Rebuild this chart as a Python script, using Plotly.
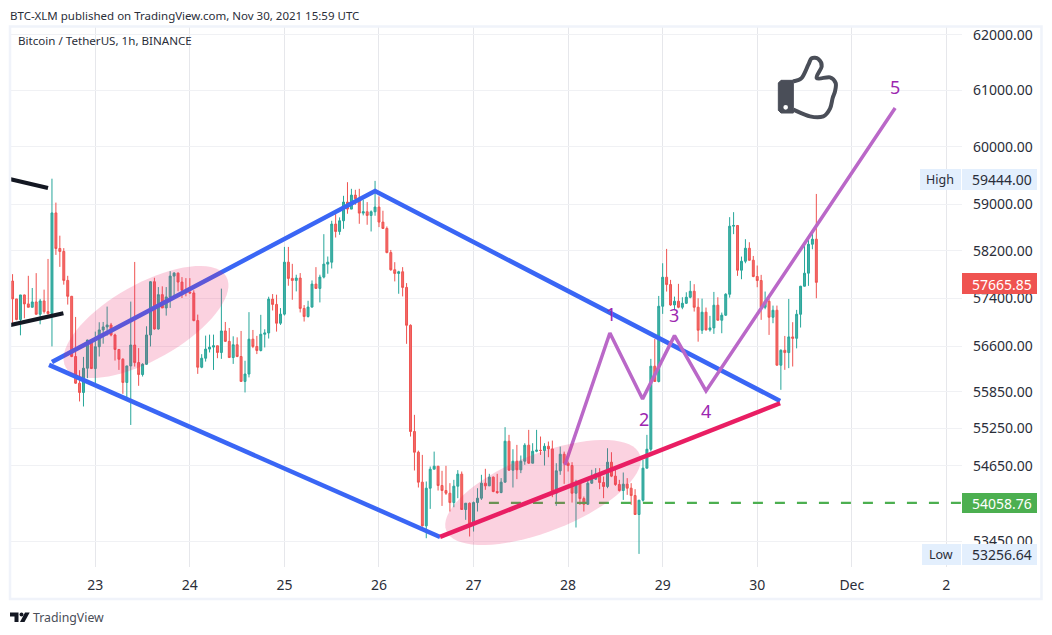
import math
import pandas as pd
import plotly.graph_objects as go

FIRST_OPEN = 57688
closes = [57387,57041,57454,57303,57247,57336,57130,57353,57174,57141,58851,58241,58190,57699,57431,56427,55988,55836,56234,56700,56228,56589,56868,56918,56951,56784,56544,56382,56000,56272,56617,56327,56130,56299,56784,57677,56884,57459,57236,57420,57772,57822,57671,57532,57500,57487,57024,56250,56399,56550,56583,56605,56494,56851,56678,56410,56622,56427,
          56017,56138,56714,56593,56527,56796,56818,57384,57295,56980,57132,58008,57733,57699,57739,57227,57092,57250,57637,57564,57755,57975,58008,58659,58532,58716,59038,58917,59159,59096,58848,58871,58808,58871,58952,58693,58584,58171,57879,57817,57845,57581,56946,55201,
          54867,54388,53696,54292,54595,54643,54335,54255,54212,54064,54324,54516,53954,54054,53728,54064,54133,54372,54329,54468,54239,54223,54388,55044,54579,54723,54585,54723,54980,54691,54883,54899,54894,54963,54920,54212,54569,54835,54691,54654,54212,54372,54127,54038,54372,54436,54521,54383,54319,54707,54484,54351,54255,54356,54292,54175,53875,54101,54611,54915,56267,
          56016,57264,57753,57629,57286,57348,57247,57314,57415,57516,57247,56863,57164,56869,56902,57281,57030,57114,57466,58623,58635,57872,58024,58245,58041,57765,57697,57247,57348,57080,57197,56284,56530,56492,56752,56729,57130,57601,57821,58314,58400,57665.85]
highs = [57805,57387,57454,57459,57777,57571,57822,57387,57543,58063,59444,59029,58460,58247,57777,57437,57085,56201,56421,56706,56706,56840,56996,57001,57258,56985,56806,56550,56399,56272,57342,58012,56566,56316,56929,57682,57744,57587,57599,57587,57855,57840,57833,57755,57738,57738,57532,57124,56466,56773,56790,56790,56605,57560,57001,56901,56762,56745,
         56851,56357,57165,56868,56769,57120,56879,57424,57469,57458,57233,58268,58268,57980,57795,57823,57283,57356,57699,57924,57795,58486,58104,58716,58831,58774,59147,59383,59268,59251,59268,59078,59038,58894,59406,59136,58889,58618,58216,58008,57862,57924,57654,56960,
         55471,54893,54824,54399,54638,54877,54643,54569,54649,54372,54425,54580,54558,54054,54064,54080,54292,54505,54601,54521,54478,54521,54452,55271,55147,54915,54985,54814,55012,55228,55012,55228,55120,55012,55039,55055,54691,54958,54877,54718,54707,54425,54372,54159,54425,54585,54612,54612,54478,54931,54867,54612,54425,54542,54452,54372,54276,54106,54744,55147,56388,
         56718,57437,57990,58234,57708,57426,57641,57415,57499,57691,57635,57398,57392,57242,57103,57505,57415,57158,57483,58778,58864,58629,58103,58400,58348,58114,57951,57793,57511,57426,57275,57275,56546,56768,57387,56997,57203,57607,58303,58389,58532,59179]
lows = [56985,57030,56778,57063,57247,57247,57124,56962,57141,57124,56594,58132,57928,57627,57292,56416,55978,55689,55607,56070,56223,55961,56427,56639,56773,56762,56360,56206,55814,55743,55307,56261,55945,56097,56288,56594,56873,56873,57236,57107,57236,57431,57515,57403,57431,57476,57013,56141,56234,56343,56494,56206,56399,56388,56667,56410,56305,56416,
        56017,55836,56083,56566,56467,56511,56577,56725,57193,56840,56952,57109,57609,57373,57514,57160,57008,57075,57244,57564,57328,57733,57812,57901,58429,58475,58578,58837,58917,58992,58664,58808,58647,58532,58802,58607,58578,58160,57862,57682,57474,57429,56637,55120,
        54574,54303,53686,53502,53964,54595,54255,54011,54186,53922,53990,54133,53949,53791,53529,53607,53922,54106,54266,54329,54228,54202,54212,54383,54574,54303,54436,54532,54665,54681,54691,54867,54824,54654,54787,54149,54011,54505,54361,54558,54064,53670,54027,53922,54027,54361,54425,54276,54133,54292,54468,54329,54239,54106,54186,54027,53870,53257,54080,54611,54880,
        56016,56000,57136,57511,57270,57214,57231,57214,57303,57398,57175,56673,56802,56858,56841,56802,57025,56813,57103,57409,58486,57776,57719,57990,58035,57753,57584,57036,57214,56785,56980,56278,55879,56207,56235,56262,56562,56908,57607,57607,58228,57398]
opens = [FIRST_OPEN] + closes[:-1]
FIRST_HOUR = -21
hours = list(range(FIRST_HOUR, FIRST_HOUR + len(closes)))

BASE = pd.Timestamp("2021-11-23")
def at(h):
    return BASE + pd.Timedelta(hours=h)
times = [at(h) for h in hours]

price_ticks = [62000, 61000, 60000, 59000, 58200, 57400, 56600, 55850, 55250, 54650, 53450]
day_ticks = ["2021-11-23","2021-11-24","2021-11-25","2021-11-26","2021-11-27","2021-11-28","2021-11-29","2021-11-30","2021-12-01","2021-12-02"]
day_labels = ["23","24","25","26","27","28","29","30","Dec","2"]

blue_upper_h = [-11, 71, 173.8]
blue_upper_p = [56337, 59231, 55697]
blue_lower_h = [-11.75, 87.5]
blue_lower_p = [56288, 53522]
pink_h = [87.5, 173.8]
pink_p = [53522, 55660]
wave_h = [119.2, 130.6, 138.9, 147, 155, 203]
wave_p = [54663, 56818, 55730, 56773, 55861, 60689]
black1_h = [-21.5, -12]
black1_p = [59434, 59283]
black2_h = [-21.5, -8.1]
black2_p = [56951, 57147]
support_h = [99.9, 220]
support_p = [54058.76, 54058.76]

# page pixel positions; the figure itself starts 8 px in because of the page's body margin
L, R, T, B = 10, 962, 27, 567
PAGE = 8
W, H = 1036, 619
FONT = "Noto Sans"
TXT = "#2a2e39"

def X(x): return (x - L) / (R - L)
def Y(y): return (B - y) / (B - T)

def line(hs, ps, color, width, dash=None):
    return go.Scatter(x=[at(h) for h in hs], y=ps, mode="lines", hoverinfo="skip", showlegend=False,
                      line=dict(color=color, width=width, dash=dash))

fig = go.Figure()
fig.add_trace(go.Candlestick(x=times, open=opens, high=highs, low=lows, close=closes, showlegend=False,
    whiskerwidth=0,
    increasing=dict(line=dict(color="#26a69a", width=1), fillcolor="#46b0a6"),
    decreasing=dict(line=dict(color="#ef5350", width=1), fillcolor="#f26b69")))
fig.add_trace(line(support_h, support_p, "#4caf50", 2.2, "10px,12px"))
fig.add_trace(line(black1_h, black1_p, "#131722", 4.2))
fig.add_trace(line(black2_h, black2_p, "#131722", 4.2))
fig.add_trace(line(blue_upper_h, blue_upper_p, "#3a66f5", 4.5))
fig.add_trace(line(blue_lower_h, blue_lower_p, "#3a66f5", 4.5))
fig.add_trace(line(pink_h, pink_p, "#e91e63", 4.5))
fig.add_trace(line(wave_h, wave_p, "#ba68c8", 3.5))

def poly(pts, close=False):
    s = "M" + " L".join(f"{X(x):.5f},{Y(y):.5f}" for x, y in pts)
    return s + (" Z" if close else "")

def ellipse_path(cx, cy, a, b, deg, n=72):
    t = math.radians(deg)
    pts = []
    for i in range(n):
        u = 2 * math.pi * i / n
        ex, ey = a * math.cos(u), b * math.sin(u)
        pts.append((cx + ex * math.cos(t) - ey * math.sin(t), cy - (ex * math.sin(t) + ey * math.cos(t))))
    return poly(pts, True)

def smooth(pts):
    s = f"M{X(pts[0][0]):.5f},{Y(pts[0][1]):.5f}"
    for i in range(len(pts) - 1):
        p0 = pts[max(i - 1, 0)]; p1 = pts[i]; p2 = pts[i + 1]; p3 = pts[min(i + 2, len(pts) - 1)]
        c1 = (p1[0] + (p2[0] - p0[0]) / 6, p1[1] + (p2[1] - p0[1]) / 6)
        c2 = (p2[0] - (p3[0] - p1[0]) / 6, p2[1] - (p3[1] - p1[1]) / 6)
        s += f" C{X(c1[0]):.5f},{Y(c1[1]):.5f} {X(c2[0]):.5f},{Y(c2[1]):.5f} {X(p2[0]):.5f},{Y(p2[1]):.5f}"
    return s

shapes = []
def rect(x0, y0, x1, y1, fill, line_color=None, lw=0):
    shapes.append(dict(type="rect", xref="paper", yref="paper", x0=X(x0), x1=X(x1), y0=Y(y0), y1=Y(y1),
                       fillcolor=fill, line=dict(width=lw, color=line_color or fill), layer="above"))
def path(d, fill=None, lc=None, lw=0):
    sh = dict(type="path", xref="paper", yref="paper", path=d, layer="above", line=dict(width=lw, color=lc or "rgba(0,0,0,0)"))
    if fill: sh["fillcolor"] = fill
    shapes.append(sh)

# frame
rect(10, 26.5, 1041.5, 599, "rgba(0,0,0,0)", "#f0f3fa", 2.5)
# ellipses
path(ellipse_path(146, 322, 92.2, 37.9, 29.4), fill="rgba(233,30,99,0.2)")
path(ellipse_path(543, 492.5, 104, 38.8, 21.5), fill="rgba(233,30,99,0.2)")
# labels
rect(920, 169, 961, 190, "#e3effd")
rect(962, 169, 1037, 190, "#e3effd")
rect(922, 544, 961, 565, "#e3effd")
rect(962, 544, 1037, 565, "#e3effd")
rect(962, 273, 1037, 294, "#ef5350")
rect(962, 493, 1037, 513, "#4caf50")
# thumb icon
zx = lambda z: 770 + z / 3
zy = lambda z: 48 + z / 3
thumb = [(70,100),(95,90),(115,50),(125,31),(145,33),(155,55),(140,90),(180,88),(197,105),(195,130),(188,150),(180,182),(160,205),(120,205),(70,185)]
path(smooth([(zx(a), zy(b)) for a, b in thumb]), lc="#4a4e58", lw=4)
path(poly([(zx(a), zy(b)) for a, b in [(33,97),(70,97),(70,195),(33,195),(25,187),(25,105)]], True), fill="#4a4e58", lc="#4a4e58", lw=1)
shapes.append(dict(type="circle", xref="paper", yref="paper", x0=X(zx(40)), x1=X(zx(54)), y0=Y(zy(185)), y1=Y(zy(171)),
                   fillcolor="white", line=dict(width=0), layer="above"))
# TradingView logo
path(poly([(10,612.5),(18.5,612.5),(18.5,622),(14.5,622),(14.5,616.5),(10,616.5)], True), fill="#131722")
path(poly([(25,612.5),(29.7,612.5),(24.5,622),(20,622)], True), fill="#131722")
shapes.append(dict(type="circle", xref="paper", yref="paper", x0=X(19.5), x1=X(23.5), y0=Y(616.5), y1=Y(612.5),
                   fillcolor="#131722", line=dict(width=0), layer="above"))

ann = []
def text(x, y, s, size=13, color=TXT, anchor="left", font=FONT):
    ann.append(dict(xref="paper", yref="paper", x=X(x), y=Y(y), text=s, showarrow=False, xanchor=anchor, yanchor="middle",
                    font=dict(size=size, color=color, family=font), borderpad=0, borderwidth=0))

text(10, 15, "BTC-XLM published on TradingView.com, Nov 30, 2021 15:59 UTC", 11.5)
text(18, 41, "Bitcoin / TetherUS, 1h, BINANCE", 11.6)
text(33, 617, "TradingView", 12.3, "#4a4e58")
text(940, 179.5, "High", 12.5, TXT, "center")
text(941, 554.5, "Low", 12.5, TXT, "center")
text(1001.5, 179.5, "59444.00", 14, TXT, "center")
text(1001.5, 554.5, "53256.64", 14, TXT, "center")
text(1001.5, 284, "57665.85", 14, "white", "center")
text(1001.5, 503.5, "54058.76", 14, "white", "center")
for x, y, s in [(611, 314, "1"), (644, 419, "2"), (674, 315, "3"), (706, 411, "4"), (895, 87, "5")]:
    text(x, y, s, 18, "#9c27b0", "center")

fig.update_layout(
    width=W, height=H, autosize=False,
    margin=dict(l=L - PAGE, r=W + PAGE - R, t=T - PAGE, b=H + PAGE - B, pad=0),
    paper_bgcolor="white", plot_bgcolor="white",
    font=dict(family=FONT, size=14, color=TXT),
    showlegend=False, shapes=shapes, annotations=ann,
    xaxis=dict(type="date", range=[at(-21.65), at(219.97)], rangeslider=dict(visible=False),
               tickmode="array", tickvals=day_ticks, ticktext=day_labels, tickangle=0,
               showgrid=True, gridcolor="#e6e7eb", gridwidth=1, zeroline=False, showline=False, ticks="",
               ticklabelstandoff=8),
    yaxis=dict(type="log", side="right", range=[math.log10(53053), math.log10(62145)],
               tickmode="array", tickvals=price_ticks, ticktext=[f"{v:.2f}" for v in price_ticks],
               showgrid=True, gridcolor="#f0f1f4", gridwidth=1, zeroline=False, showline=False, ticks="",
               ticklabelstandoff=10),
)
fig.write_html("out.html")
